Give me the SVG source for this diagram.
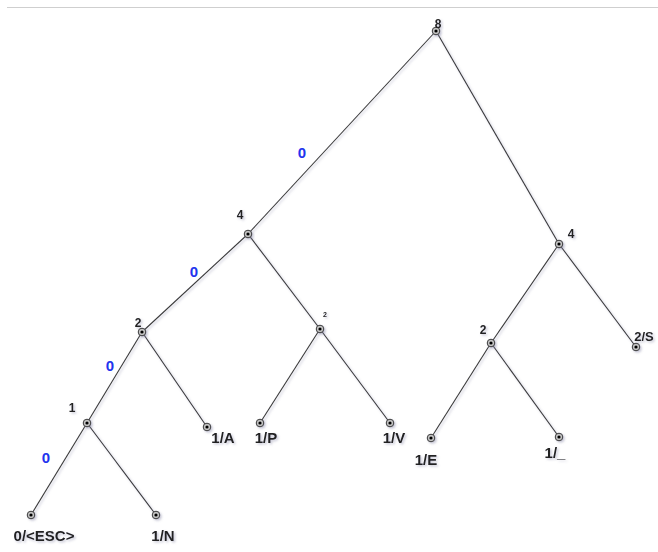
<svg xmlns="http://www.w3.org/2000/svg" width="658" height="552" viewBox="0 0 658 552">
<defs>
<filter id="sh" x="-20%" y="-20%" width="140%" height="140%">
<feDropShadow dx="1.5" dy="1.5" stdDeviation="1" flood-color="#8080a0" flood-opacity="0.45"/>
</filter>
</defs>
<style>
.edge{stroke:#3a3a3a;stroke-width:1.1;fill:none}
.ring{fill:#c4c4c4;stroke:#3a3a3a;stroke-width:1}
.dot{fill:#000}
.lbl{font-family:"Liberation Sans",Arial,sans-serif;font-weight:bold;font-size:15px;fill:#222}
.cnt{font-family:"Liberation Sans",Arial,sans-serif;font-weight:bold;font-size:12px;fill:#222}
.mid{font-family:"Liberation Sans",Arial,sans-serif;font-weight:bold;font-size:13px;fill:#222}
.tiny{font-family:"Liberation Sans",Arial,sans-serif;font-weight:bold;font-size:7px;fill:#222}
.bit{font-family:"Liberation Sans",Arial,sans-serif;font-weight:bold;font-size:15px;fill:#2233ee}
</style>
<rect width="658" height="552" fill="#fff"/>
<line x1="7" y1="7.5" x2="658" y2="7.5" stroke="#cfcfcf" stroke-width="1"/>
<g id="connectors" filter="url(#sh)">
<line class="edge" x1="436" y1="31" x2="248" y2="234"/>
<line class="edge" x1="436" y1="31" x2="559" y2="244"/>
<line class="edge" x1="248" y1="234" x2="142" y2="332"/>
<line class="edge" x1="248" y1="234" x2="320" y2="329"/>
<line class="edge" x1="142" y1="332" x2="87" y2="423"/>
<line class="edge" x1="142" y1="332" x2="207" y2="427"/>
<line class="edge" x1="87" y1="423" x2="31" y2="515"/>
<line class="edge" x1="87" y1="423" x2="156" y2="515"/>
<line class="edge" x1="320" y1="329" x2="260" y2="423"/>
<line class="edge" x1="320" y1="329" x2="390" y2="423"/>
<line class="edge" x1="559" y1="244" x2="491" y2="343"/>
<line class="edge" x1="559" y1="244" x2="636" y2="347"/>
<line class="edge" x1="491" y1="343" x2="431" y2="438"/>
<line class="edge" x1="491" y1="343" x2="559" y2="437"/>
</g>
<g id="bits">
<text class="bit" x="302" y="158" text-anchor="middle">0</text>
<text class="bit" x="194" y="277" text-anchor="middle">0</text>
<text class="bit" x="110" y="371" text-anchor="middle">0</text>
<text class="bit" x="46" y="463" text-anchor="middle">0</text>
</g>
<g id="n-root" filter="url(#sh)"><circle class="ring" cx="436" cy="31" r="3.8"/><circle class="dot" cx="436" cy="31" r="1.6"/><text class="cnt" x="438" y="28" text-anchor="middle">8</text></g>
<g id="n-l4" filter="url(#sh)"><circle class="ring" cx="248" cy="234" r="3.8"/><circle class="dot" cx="248" cy="234" r="1.6"/><text class="cnt" x="240" y="219" text-anchor="middle">4</text></g>
<g id="n-r4" filter="url(#sh)"><circle class="ring" cx="559" cy="244" r="3.8"/><circle class="dot" cx="559" cy="244" r="1.6"/><text class="cnt" x="571" y="238" text-anchor="middle">4</text></g>
<g id="n-l2" filter="url(#sh)"><circle class="ring" cx="142" cy="332" r="3.8"/><circle class="dot" cx="142" cy="332" r="1.6"/><text class="cnt" x="138" y="327" text-anchor="middle">2</text></g>
<g id="n-m2" filter="url(#sh)"><circle class="ring" cx="320" cy="329" r="3.8"/><circle class="dot" cx="320" cy="329" r="1.6"/><text class="tiny" x="325" y="317" text-anchor="middle">2</text></g>
<g id="n-r2" filter="url(#sh)"><circle class="ring" cx="491" cy="343" r="3.8"/><circle class="dot" cx="491" cy="343" r="1.6"/><text class="cnt" x="483" y="334" text-anchor="middle">2</text></g>
<g id="n-1" filter="url(#sh)"><circle class="ring" cx="87" cy="423" r="3.8"/><circle class="dot" cx="87" cy="423" r="1.6"/><text class="cnt" x="72" y="412" text-anchor="middle">1</text></g>
<g id="n-esc" filter="url(#sh)"><circle class="ring" cx="31" cy="515" r="3.8"/><circle class="dot" cx="31" cy="515" r="1.6"/><text class="lbl" x="44" y="541" text-anchor="middle">0/&lt;ESC&gt;</text></g>
<g id="n-N" filter="url(#sh)"><circle class="ring" cx="156" cy="515" r="3.8"/><circle class="dot" cx="156" cy="515" r="1.6"/><text class="lbl" x="163" y="541" text-anchor="middle">1/N</text></g>
<g id="n-A" filter="url(#sh)"><circle class="ring" cx="207" cy="427" r="3.8"/><circle class="dot" cx="207" cy="427" r="1.6"/><text class="lbl" x="223" y="443" text-anchor="middle">1/A</text></g>
<g id="n-P" filter="url(#sh)"><circle class="ring" cx="260" cy="423" r="3.8"/><circle class="dot" cx="260" cy="423" r="1.6"/><text class="lbl" x="266" y="443" text-anchor="middle">1/P</text></g>
<g id="n-V" filter="url(#sh)"><circle class="ring" cx="390" cy="423" r="3.8"/><circle class="dot" cx="390" cy="423" r="1.6"/><text class="lbl" x="394" y="443" text-anchor="middle">1/V</text></g>
<g id="n-E" filter="url(#sh)"><circle class="ring" cx="431" cy="438" r="3.8"/><circle class="dot" cx="431" cy="438" r="1.6"/><text class="lbl" x="426" y="465" text-anchor="middle">1/E</text></g>
<g id="n-us" filter="url(#sh)"><circle class="ring" cx="559" cy="437" r="3.8"/><circle class="dot" cx="559" cy="437" r="1.6"/><text class="lbl" x="555" y="458" text-anchor="middle">1/_</text></g>
<g id="n-S" filter="url(#sh)"><circle class="ring" cx="636" cy="347" r="3.8"/><circle class="dot" cx="636" cy="347" r="1.6"/><text class="mid" x="644" y="341" text-anchor="middle">2/S</text></g>
</svg>
